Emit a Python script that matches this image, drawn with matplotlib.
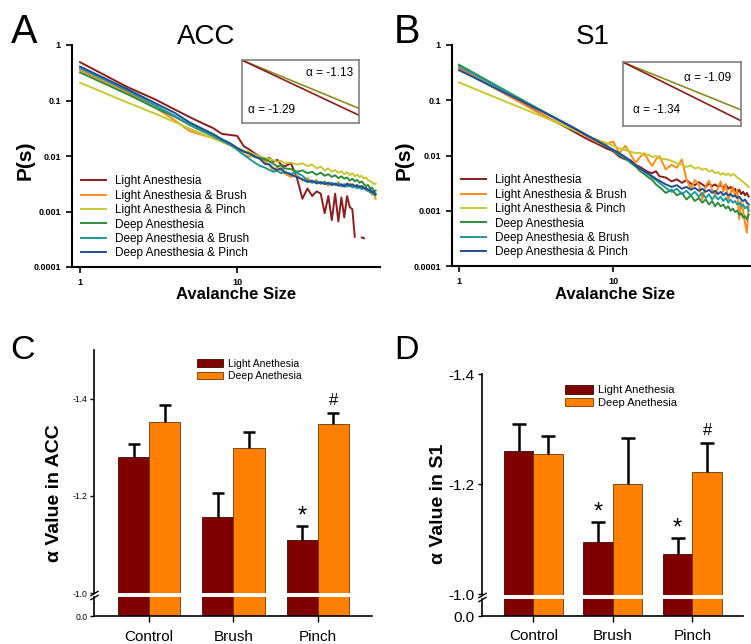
import numpy as np
import matplotlib
matplotlib.use("Agg")
import matplotlib.pyplot as plt

plt.rcParams['font.family'] = ['Liberation Sans', 'DejaVu Sans']
plt.rcParams['axes.unicode_minus'] = False

# ---- datos de las distribuciones de avalanchas ----
sizes = [1, 2, 3, 4, 5, 6, 7, 8, 9, 10, 11, 12, 13, 14, 15, 16, 17, 18, 19, 20,
         22, 24, 26, 28, 30, 32, 34, 36, 38, 40, 42, 44, 46, 48, 50, 52, 54, 56,
         58, 60, 62, 64, 66, 68, 70, 72, 74, 76]
nan = np.nan

series_names = ["Light Anesthesia", "Light Anesthesia & Brush", "Light Anesthesia & Pinch",
                "Deep Anesthesia", "Deep Anesthesia & Brush", "Deep Anesthesia & Pinch"]
line_colors = ["#8c1c1c", "#ff8c1a", "#c8c832", "#2e8b3a", "#1e9a9a", "#1f4e96"]

acc_light = [0.49, 0.175, 0.105, 0.069, 0.050, 0.039, 0.032, 0.025, 0.024, 0.023,
             0.015, 0.013, 0.011, 0.0098, 0.0085, 0.0092, 0.0079, 0.0085, 0.0070, 0.0065,
             0.0074, 0.0040, 0.0017, 0.0026, 0.0019, 0.0023, 0.0021, 0.00093, 0.0019, 0.0007,
             0.0021, 0.00066, 0.0018, 0.00078, 0.0019, 0.0012, 0.0011, 0.00035, nan, nan,
             0.00034, 0.00033, nan, nan, nan, nan, nan, nan]
acc_light_brush = [0.35, 0.14, 0.075, 0.044, 0.028, 0.024, 0.021, 0.018, 0.016, 0.013,
                   0.0105, 0.0098, 0.0102, 0.0088, 0.0080, 0.0070, 0.0052, 0.0064, 0.0055, 0.0048,
                   0.0042, 0.0045, 0.0036, 0.0040, 0.0033, 0.0037, 0.0031, 0.0035, 0.0029, 0.0033,
                   0.0030, 0.0034, 0.0028, 0.0031, 0.0029, 0.0032, 0.0028, 0.0030, 0.0027, 0.0029,
                   0.0026, 0.0028, 0.0025, 0.0023, 0.0024, 0.0020, 0.0021, 0.0017]
acc_light_pinch = [0.21, 0.092, 0.058, 0.041, 0.031, 0.025, 0.021, 0.018, 0.0156, 0.0138,
                   0.0125, 0.0118, 0.0105, 0.0098, 0.0092, 0.0088, 0.0084, 0.0078, 0.0082, 0.0074,
                   0.0076, 0.0070, 0.0074, 0.0066, 0.0070, 0.0060, 0.0064, 0.0055, 0.0060, 0.0052,
                   0.0056, 0.0050, 0.0053, 0.0047, 0.0051, 0.0045, 0.0049, 0.0043, 0.0046, 0.0042,
                   0.0044, 0.0039, 0.0041, 0.0037, 0.0035, 0.0034, 0.0031, 0.0032]
acc_deep = [0.32, 0.13, 0.074, 0.051, 0.036, 0.028, 0.023, 0.019, 0.016, 0.0135,
            0.012, 0.011, 0.0095, 0.0092, 0.0088, 0.0080, 0.0072, 0.0065, 0.0068, 0.0060,
            0.0058, 0.0052, 0.0055, 0.0049, 0.0052, 0.0046, 0.0050, 0.0044, 0.0047, 0.0042,
            0.0045, 0.0040, 0.0043, 0.0039, 0.0041, 0.0036, 0.0039, 0.0035, 0.0037, 0.0033,
            0.0035, 0.0031, 0.0029, 0.0030, 0.0026, 0.0027, 0.0023, 0.0024]
acc_deep_brush = [0.38, 0.15, 0.082, 0.053, 0.037, 0.029, 0.023, 0.019, 0.016, 0.0130,
                  0.0105, 0.0088, 0.0075, 0.0066, 0.0062, 0.0056, 0.0052, 0.0054, 0.0049, 0.0051,
                  0.0048, 0.0050, 0.0044, 0.0036, 0.0033, 0.0035, 0.0032, 0.0034, 0.0031, 0.0033,
                  0.0030, 0.0032, 0.0029, 0.0031, 0.0028, 0.0030, 0.0027, 0.0029, 0.0026, 0.0028,
                  0.0025, 0.0027, 0.0024, 0.0025, 0.0022, 0.0023, 0.0020, 0.0021]
acc_deep_pinch = [0.41, 0.16, 0.090, 0.060, 0.040, 0.031, 0.025, 0.020, 0.017, 0.014,
                  0.012, 0.011, 0.0098, 0.0088, 0.0072, 0.0070, 0.0060, 0.0056, 0.0060, 0.0052,
                  0.0046, 0.0042, 0.0038, 0.0034, 0.0036, 0.0032, 0.0034, 0.0031, 0.0033, 0.0030,
                  0.0032, 0.0029, 0.0031, 0.0028, 0.0032, 0.0029, 0.0031, 0.0028, 0.0030, 0.0027,
                  0.0029, 0.0026, 0.0027, 0.0024, 0.0025, 0.0022, 0.0023, 0.0020]

s1_light = [0.38, 0.13, 0.070, 0.044, 0.032, 0.024, 0.019, 0.0160, 0.0135, 0.0120,
            0.0095, 0.0085, 0.0082, 0.0068, 0.0062, 0.0055, 0.0050, 0.0048, 0.0052, 0.0042,
            0.0040, 0.0034, 0.0037, 0.0032, 0.0036, 0.0031, 0.0029, 0.0033, 0.0030, 0.0027,
            0.0031, 0.0028, 0.0030, 0.0027, 0.0029, 0.0026, 0.0030, 0.0025, 0.0027, 0.0023,
            0.0025, 0.0021, 0.0024, 0.0020, 0.0022, 0.0019, 0.0021, 0.0018]
s1_light_brush = [0.37, 0.13, 0.068, 0.045, 0.034, 0.026, 0.021, 0.017, 0.016, 0.018,
                  0.011, 0.015, 0.0105, 0.0074, 0.0095, 0.011, 0.0080, 0.0065, 0.0085, 0.0098,
                  0.0056, 0.0068, 0.0060, 0.0085, 0.0037, 0.0025, 0.0036, 0.0030, 0.0016, 0.0028,
                  0.0035, 0.0024, 0.0019, 0.0026, 0.0034, 0.0022, 0.0030, 0.0016, 0.0021, 0.0027,
                  0.0018, 0.0024, 0.0007, 0.0015, 0.0010, 0.0006, 0.0004, 0.0012]
s1_light_pinch = [0.21, 0.095, 0.060, 0.043, 0.033, 0.027, 0.022, 0.019, 0.017, 0.015,
                  0.0135, 0.0125, 0.0118, 0.0110, 0.0112, 0.0100, 0.0104, 0.0094, 0.0098, 0.0088,
                  0.0086, 0.0080, 0.0072, 0.0068, 0.0062, 0.0066, 0.0058, 0.0061, 0.0055, 0.0058,
                  0.0051, 0.0054, 0.0048, 0.0050, 0.0045, 0.0048, 0.0044, 0.0047, 0.0043, 0.0046,
                  0.0044, 0.0040, 0.0038, 0.0035, 0.0033, 0.0031, 0.0029, 0.0027]
s1_deep = [0.44, 0.15, 0.080, 0.052, 0.037, 0.028, 0.022, 0.018, 0.015, 0.0125,
           0.0100, 0.0088, 0.0074, 0.0064, 0.0052, 0.0046, 0.0040, 0.0036, 0.0030, 0.0027,
           0.0021, 0.0024, 0.0019, 0.0021, 0.0016, 0.0019, 0.0015, 0.0017, 0.0014, 0.0016,
           0.0013, 0.0015, 0.0012, 0.0014, 0.0012, 0.0013, 0.0011, 0.0012, 0.0010, 0.0011,
           0.00095, 0.0010, 0.00085, 0.0009, 0.00075, 0.0008, 0.0007, 0.00085]
s1_deep_brush = [0.42, 0.145, 0.078, 0.051, 0.037, 0.028, 0.022, 0.018, 0.015, 0.0125,
                 0.0105, 0.0090, 0.0076, 0.0066, 0.0058, 0.0050, 0.0045, 0.0040, 0.0036, 0.0032,
                 0.0026, 0.0022, 0.0025, 0.0020, 0.0023, 0.0019, 0.0022, 0.0018, 0.0021, 0.0017,
                 0.0020, 0.0016, 0.0019, 0.0016, 0.0018, 0.0015, 0.0017, 0.0014, 0.0016, 0.0014,
                 0.0015, 0.0013, 0.0014, 0.0012, 0.0013, 0.0011, 0.0012, 0.0010]
s1_deep_pinch = [0.35, 0.135, 0.077, 0.051, 0.037, 0.028, 0.022, 0.018, 0.015, 0.0128,
                 0.0110, 0.0094, 0.0080, 0.0065, 0.0058, 0.0052, 0.0047, 0.0042, 0.0038, 0.0035,
                 0.0030, 0.0027, 0.0029, 0.0025, 0.0027, 0.0024, 0.0026, 0.0023, 0.0025, 0.0022,
                 0.0024, 0.0021, 0.0023, 0.0020, 0.0022, 0.0019, 0.0021, 0.0019, 0.0020, 0.0018,
                 0.0019, 0.0017, 0.0018, 0.0016, 0.0015, 0.0016, 0.0014, 0.0013]

# exponentes de ajuste (recuadros)
acc_alphas = [1.13, 1.29]
s1_alphas = [1.09, 1.34]

# ---- datos de las barras ----
groups = ["Control", "Brush", "Pinch"]
bar_names = ["Light Anethesia", "Deep Anethesia"]
acc_light_alpha = [-1.280, -1.156, -1.110]
acc_light_err = [0.027, 0.051, 0.028]
acc_deep_alpha = [-1.352, -1.299, -1.348]
acc_deep_err = [0.034, 0.032, 0.022]
acc_light_marks = ["", "", "*"]
acc_deep_marks = ["", "", "#"]
s1_light_alpha = [-1.260, -1.095, -1.073]
s1_light_err = [0.049, 0.037, 0.030]
s1_deep_alpha = [-1.255, -1.201, -1.222]
s1_deep_err = [0.033, 0.082, 0.052]
s1_light_marks = ["", "*", "*"]
s1_deep_marks = ["", "", "#"]

W, H = 751, 644
fig = plt.figure(figsize=(W / 100, H / 100), dpi=100)


def rect(x0, y0, x1, y1):
    # caja en pixeles (arriba-izquierda) -> fraccion de figura
    return [x0 / W, 1 - y1 / H, (x1 - x0) / W, (y1 - y0) / H]


def line_panel(box, xlim, data, inset_box, alphas, ylab_x, xlab_xy, txt_pos):
    ax = fig.add_axes(rect(*box))
    for vals, name, col in zip(data, series_names, line_colors):
        ax.plot(sizes, vals, color=col, lw=1.4, label=name)
    ax.set_xscale("log")
    ax.set_yscale("log")
    ax.set_xlim(*xlim)
    ax.set_ylim(1e-4, 1)
    ax.set_yticks([1e-4, 1e-3, 1e-2, 1e-1, 1])
    ax.set_yticklabels(["0.0001", "0.001", "0.01", "0.1", "1"])
    ax.set_xticks([1, 10])
    ax.set_xticklabels(["1", "10"])
    ax.minorticks_off()
    ax.tick_params(labelsize=6.5, width=1.2, length=4, pad=4)
    for lab in ax.get_xticklabels() + ax.get_yticklabels():
        lab.set_fontweight("bold")
    for sp in ["top", "right"]:
        ax.spines[sp].set_visible(False)
    for sp in ["left", "bottom"]:
        ax.spines[sp].set_linewidth(1.5)
    ax.set_ylabel("P(s)", fontsize=15, fontweight="bold")
    ax.yaxis.set_label_coords(ylab_x, 0.48)
    ax.set_xlabel("Avalanche Size", fontsize=12, fontweight="bold")
    ax.xaxis.set_label_coords(*xlab_xy)
    ax.legend(loc="lower left", bbox_to_anchor=(0.03, 0.035), frameon=False,
              fontsize=8.5, handlelength=2.1, handletextpad=0.8, labelspacing=0.2,
              borderpad=0, borderaxespad=0)

    ins = fig.add_axes(rect(*inset_box))
    ins.plot([0, 1], [0, -alphas[0]], color="#8c8c1e", lw=1.2)
    ins.plot([0, 1], [0, -alphas[1]], color="#8c1c1c", lw=1.2)
    ins.set_xlim(0, 1)
    ins.set_ylim(-1.46, 0)
    ins.set_xticks([])
    ins.set_yticks([])
    for sp in ins.spines.values():
        sp.set_color("#808080")
        sp.set_linewidth(1.2)
    ins.text(txt_pos[0], txt_pos[1], "\u03b1 = -%.2f" % alphas[0], transform=ins.transAxes,
             ha="right", va="center", fontsize=8.5)
    ins.text(txt_pos[2], txt_pos[3], "\u03b1 = -%.2f" % alphas[1], transform=ins.transAxes,
             ha="left", va="center", fontsize=8.5)
    return ax


line_panel((72, 45, 380, 267), (0.889, 81),
           [acc_light, acc_light_brush, acc_light_pinch, acc_deep, acc_deep_brush, acc_deep_pinch],
           (241.7, 60, 359.3, 122.7), acc_alphas, -0.12, (0.532, -0.09),
           (0.944, 0.79, 0.055, 0.2))
line_panel((452, 45, 751, 266), (0.90, 78.7),
           [s1_light, s1_light_brush, s1_light_pinch, s1_deep, s1_deep_brush, s1_deep_pinch],
           (623.3, 62.3, 741, 126), s1_alphas, -0.13, (0.545, -0.095),
           (0.92, 0.75, 0.085, 0.25))


def bar_panel(x0, x1, ytop, ybrk, top_lim, yticks, light, light_err, deep, deep_err,
              light_marks, deep_marks, ylabel, ylab_xy, ytick_fs, leg_xy, leg_fs, cap,
              xpad):
    ax = fig.add_axes(rect(x0, ytop, x1, ybrk))
    axl = fig.add_axes(rect(x0, ybrk + 4, x1, 616))
    x = np.arange(len(groups))
    w = 0.37
    for a in (ax, axl):
        a.bar(x - w / 2, light, w, color="#800000", edgecolor="#3a0a00", lw=0.6,
              label=bar_names[0], zorder=2)
        a.bar(x + w / 2, deep, w, color="#ff8000", edgecolor="#6a3a00", lw=0.6,
              label=bar_names[1], zorder=2)
        a.set_xlim(-0.65, 2.64)
        for sp in ["top", "right"]:
            a.spines[sp].set_visible(False)
        a.spines["left"].set_linewidth(1.2)
        a.spines["bottom"].set_linewidth(1.2)
        a.tick_params(axis="y", labelsize=ytick_fs, width=1, length=3, pad=2)
    # barras de error solo hacia arriba, con tapa solo en el extremo
    for xs, vals, errs in ((x - w / 2, light, light_err), (x + w / 2, deep, deep_err)):
        tops = np.array(vals) - np.array(errs)
        ax.vlines(xs, vals, tops, color="k", lw=1.8, zorder=3)
        ax.plot(xs, tops, linestyle="none", marker="_", markersize=cap, mew=1.8,
                color="k", zorder=3)
    for xi, v, e, m in zip(x - w / 2, light, light_err, light_marks):
        if m:
            ax.annotate(m, (xi, v - e), xytext=(0, -1), textcoords="offset points",
                        ha="center", va="bottom", fontsize=17)
    for xi, v, e, m in zip(x + w / 2, deep, deep_err, deep_marks):
        if m:
            ax.annotate(m, (xi, v - e), xytext=(0, 4), textcoords="offset points",
                        ha="center", va="bottom", fontsize=12)
    ax.set_ylim(-1.0, top_lim)
    ax.set_yticks(yticks)
    ax.set_yticklabels(["%.1f" % t for t in yticks])
    ax.spines["bottom"].set_visible(False)
    ax.set_xticks([])
    axl.set_ylim(0, -0.05)
    axl.set_yticks([0])
    axl.set_yticklabels(["0.0"])
    axl.set_xticks(x)
    axl.set_xticklabels(groups, fontsize=11)
    axl.tick_params(axis="x", width=1, length=4, pad=xpad)
    # marcas del corte del eje
    kw = dict(marker=[(-1, -0.6), (1, 0.6)], markersize=6, linestyle="none",
              color="k", mec="k", mew=1, clip_on=False)
    ax.plot([0], [0], transform=ax.transAxes, **kw)
    axl.plot([0], [1], transform=axl.transAxes, **kw)
    ax.set_ylabel(ylabel, fontsize=14, fontweight="bold")
    ax.yaxis.set_label_coords(*ylab_xy)
    ax.legend(loc="upper left", bbox_to_anchor=leg_xy, frameon=False, fontsize=leg_fs,
              handlelength=2.5, handleheight=0.8, handletextpad=0.5, labelspacing=0.25,
              borderpad=0, borderaxespad=0)
    return ax


bar_panel(94.3, 371.7, 350, 593.3, -1.5, [-1.4, -1.2, -1.0],
          acc_light_alpha, acc_light_err, acc_deep_alpha, acc_deep_err,
          acc_light_marks, acc_deep_marks, "\u03b1 Value in ACC", (-0.113, 0.41),
          6.2, (0.369, 0.965), 7.5, 9, 6)
bar_panel(481.7, 743.3, 374, 594.5, -1.4, [-1.4, -1.2, -1.0],
          s1_light_alpha, s1_light_err, s1_deep_alpha, s1_deep_err,
          s1_light_marks, s1_deep_marks, "\u03b1 Value in S1", (-0.133, 0.41),
          11, (0.318, 0.95), 8, 10, 5)

# titulos y letras de panel
fig.text(206 / W, 1 - 44.3 / H, "ACC", ha="center", va="baseline", fontsize=20)
fig.text(593 / W, 1 - 44.3 / H, "S1", ha="center", va="baseline", fontsize=20)
fig.text(11 / W, 1 - 43.3 / H, "A", ha="left", va="baseline", fontsize=28.5)
fig.text(394 / W, 1 - 43.3 / H, "B", ha="left", va="baseline", fontsize=28.5)
fig.text(10 / W, 1 - 359.3 / H, "C", ha="left", va="baseline", fontsize=24.5)
fig.text(394 / W, 1 - 359.3 / H, "D", ha="left", va="baseline", fontsize=24.5)

fig.savefig("out.png", dpi=100)
